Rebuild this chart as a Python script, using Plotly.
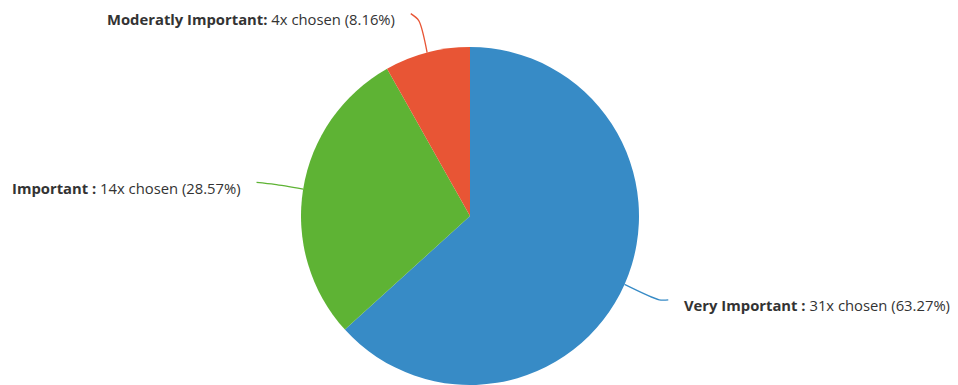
import math
import plotly.graph_objects as go

# Survey answers: how important the topic is
categories = ["Very Important", "Important", "Moderatly Important"]
counts = [31, 14, 4]
label_sep = [" :", " :", ":"]
colors = ["#378BC6", "#5EB334", "#E85535"]

W, H = 958, 385
total = sum(counts)
percents = [round(100 * c / total, 2) for c in counts]

# Pie geometry (pixels): the pie fills the area below a 47px top band
top = 47
dom_top = 1 - top / H
radius = (H - top) / 2
cx, cy = 470, top + radius

fig = go.Figure()

fig.add_trace(go.Pie(
    labels=categories,
    values=counts,
    sort=False,
    direction="clockwise",
    rotation=0,
    marker=dict(colors=colors, line=dict(width=0)),
    textinfo="none",
    hoverinfo="none",
    showlegend=False,
    domain=dict(x=[(cx - radius - 5) / W, (cx + radius + 5) / W], y=[0, dom_top]),
))

# Leader-line layout per label: bend distance past the rim, then a short run
elbow = {"Very Important": 38, "Important": 29, "Moderatly Important": 33}
run = {"Very Important": (9, 0), "Important": (-18, -2), "Moderatly Important": (-8, -7)}
gap = 14            # space between connector end and text

annotations = []
start = 0.0
for cat, cnt, pct, sep, col in zip(categories, counts, percents, label_sep, colors):
    frac = cnt / total
    mid = (start + frac / 2) * 2 * math.pi
    start += frac
    dx, dy = math.sin(mid), -math.cos(mid)
    x0, y0 = cx + radius * dx, cy + radius * dy
    x1, y1 = cx + (radius + elbow[cat]) * dx, cy + (radius + elbow[cat]) * dy
    side = 1 if dx >= 0 else -1
    x2, y2 = x1 + run[cat][0], y1 + run[cat][1]
    fig.add_trace(go.Scatter(
        x=[x0, x1, x2], y=[y0, y1, y2],
        mode="lines",
        line=dict(color=col, width=1.3, shape="spline", smoothing=0.8),
        hoverinfo="skip", showlegend=False,
    ))
    annotations.append(dict(
        x=x2 + side * gap, y=y2 + 5.5,
        xref="x", yref="y",
        xanchor="left" if side > 0 else "right",
        yanchor="middle",
        showarrow=False,
        text=f"<b>{cat}{sep}</b> {cnt}x chosen ({pct:.2f}%)",
        font=dict(family="Open Sans", size=14.8, color="#333333"),
    ))

fig.update_layout(
    width=W, height=H,
    margin=dict(l=0, r=0, t=0, b=0),
    paper_bgcolor="white",
    plot_bgcolor="rgba(0,0,0,0)",
    xaxis=dict(range=[0, W], visible=False, fixedrange=True),
    yaxis=dict(range=[H, 0], visible=False, fixedrange=True),
    annotations=annotations,
)

fig.write_html("out.html")
